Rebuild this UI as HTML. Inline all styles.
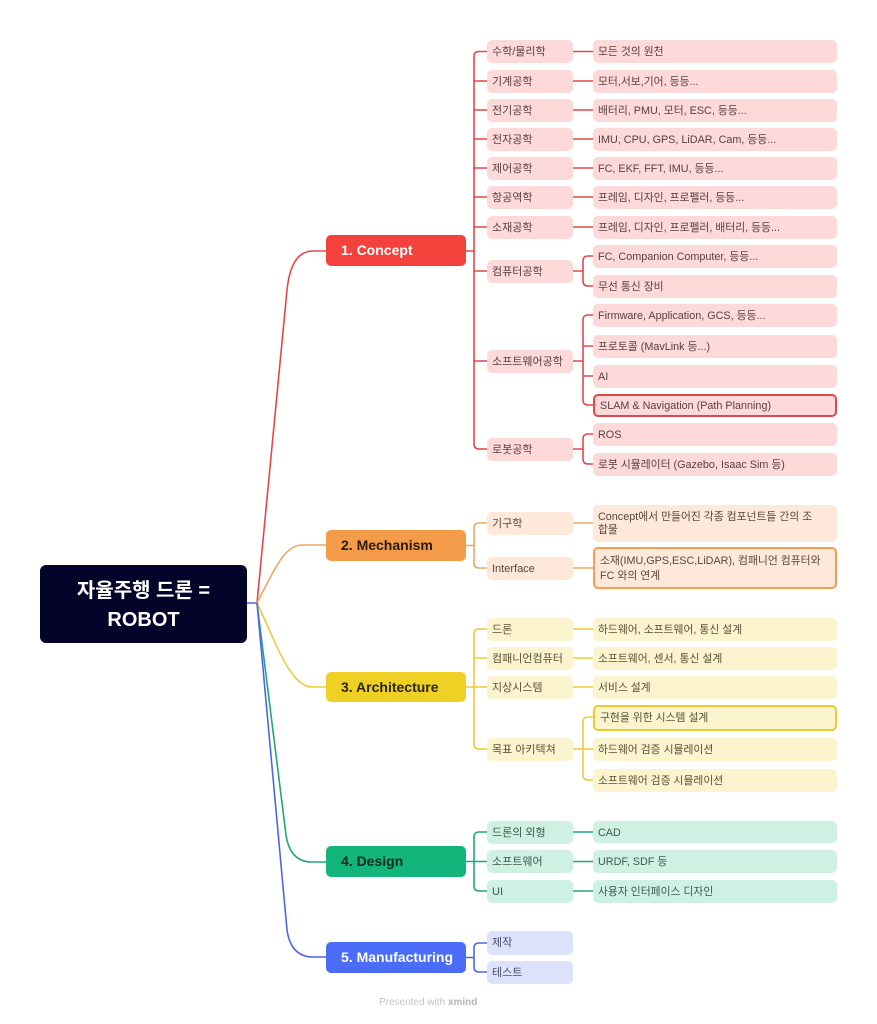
<!DOCTYPE html>
<html><head><meta charset="utf-8">
<style>
html,body{margin:0;padding:0;background:#fff;}
#c{position:relative;width:877px;height:1024px;overflow:hidden;background:#fff;font-family:"Liberation Sans","Noto Sans CJK KR",sans-serif;}
svg{position:absolute;left:0;top:0;}
.b{position:absolute;box-sizing:border-box;border-radius:5px;white-space:nowrap;}
.sub{left:487px;width:86px;height:23px;line-height:25px;font-size:11px;padding-left:5px;}
.leaf{left:593px;width:244px;height:23px;line-height:25px;font-size:10.8px;padding-left:5px;}
.main{left:326px;width:140px;height:31px;line-height:31px;font-size:14px;font-weight:bold;padding-left:15px;border-radius:5px;}
.r{background:#FDD9D9;color:#5a4040;}
.o{background:#FDE8DA;color:#5e4636;}
.y{background:#FCF3CF;color:#5a5236;}
.g{background:#CFF1E3;color:#3c5a4e;}
.bl{background:#DCE2FC;color:#474d6e;}
</style></head><body>
<div id="c">
<svg width="877" height="1024" viewBox="0 0 877 1024" fill="none" stroke-width="1.6" stroke-linecap="round">
  <path d="M247,603 H257" stroke="#5468D8"/>
  <path d="M257,603 L287,290 Q291,251 313,251 L326,251" stroke="#E2484A"/>
  <path d="M257,603 C272,575 283,545 302,545 L326,545" stroke="#F0A763"/>
  <path d="M257,603 C275,640 290,687 312,687 L326,687" stroke="#EBCB3A"/>
  <path d="M257,603 L286,835 Q290,862 312,862 L326,862" stroke="#1FA878"/>
  <path d="M257,603 L287,930 Q291,957 313,957 L326,957" stroke="#4F66E2"/>

  <g stroke="#E2484A">
    <path d="M466,251 H474"/>
    <path d="M474,251 V56.5 Q474,51.5 479,51.5 H487"/>
    <path d="M474,81 H487"/>
    <path d="M474,110 H487"/>
    <path d="M474,139 H487"/>
    <path d="M474,168 H487"/>
    <path d="M474,197 H487"/>
    <path d="M474,227 H487"/>
    <path d="M474,251 V444 Q474,449 479,449 H487"/>
    <path d="M474,271 H487"/>
    <path d="M474,361 H487"/>
    <path d="M573,51.5 H593"/>
    <path d="M573,81 H593"/>
    <path d="M573,110 H593"/>
    <path d="M573,139 H593"/>
    <path d="M573,168 H593"/>
    <path d="M573,197 H593"/>
    <path d="M573,227 H593"/>
    <path d="M573,271 H583 M583,271 V261 Q583,256 588,256 H593 M583,271 V281 Q583,286 588,286 H593"/>
    <path d="M573,361 H583 M583,361 V320 Q583,315 588,315 H593 M583,361 V400 Q583,405 588,405 H593 M583,346 H593 M583,376 H593"/>
    <path d="M573,449 H583 M583,449 V439 Q583,434 588,434 H593 M583,449 V459 Q583,464 588,464 H593"/>
  </g>
  <g stroke="#F0A763">
    <path d="M466,545.5 H474"/>
    <path d="M474,545.5 V528 Q474,523 479,523 H487"/>
    <path d="M474,545.5 V563 Q474,568 479,568 H487"/>
    <path d="M573,523 H593"/>
    <path d="M573,568 H593"/>
  </g>
  <g stroke="#EBCB3A">
    <path d="M466,687 H474"/>
    <path d="M474,687 V634 Q474,629 479,629 H487"/>
    <path d="M474,658 H487"/>
    <path d="M474,687 H487"/>
    <path d="M474,687 V744 Q474,749 479,749 H487"/>
    <path d="M573,629 H593"/>
    <path d="M573,658 H593"/>
    <path d="M573,687 H593"/>
    <path d="M573,749 H583 M583,749 V722 Q583,717 588,717 H593 M583,749 H593 M583,749 V775 Q583,780 588,780 H593"/>
  </g>
  <g stroke="#1FA878">
    <path d="M466,861.5 H474"/>
    <path d="M474,861.5 V837 Q474,832 479,832 H487"/>
    <path d="M474,861.5 H487"/>
    <path d="M474,861.5 V886 Q474,891 479,891 H487"/>
    <path d="M573,832 H593"/>
    <path d="M573,861.5 H593"/>
    <path d="M573,891 H593"/>
  </g>
  <g stroke="#4F66E2">
    <path d="M466,957.5 H474"/>
    <path d="M474,957.5 V948 Q474,943 479,943 H487"/>
    <path d="M474,957.5 V967 Q474,972 479,972 H487"/>
  </g>
</svg>

<div class="b" style="left:40px;top:565px;width:207px;height:78px;background:#04042A;border-radius:6px;color:#fff;font-size:20px;font-weight:bold;text-align:center;line-height:29px;padding-top:12px;">자율주행 드론 =<br>ROBOT</div>

<div class="b main" style="top:235px;background:#F4413B;color:#fff;">1. Concept</div>
<div class="b main" style="top:530px;background:#F39B48;color:#2a1a0c;">2. Mechanism</div>
<div class="b main" style="top:672px;height:30px;line-height:30px;background:#EFD024;color:#2a2408;">3. Architecture</div>
<div class="b main" style="top:846px;background:#13B57A;color:#0c2a1e;">4. Design</div>
<div class="b main" style="top:942px;background:#4A6CF7;color:#fff;">5. Manufacturing</div>

<div class="b sub r" style="top:40px;">수학/물리학</div>
<div class="b sub r" style="top:69.5px;">기계공학</div>
<div class="b sub r" style="top:98.5px;">전기공학</div>
<div class="b sub r" style="top:127.5px;">전자공학</div>
<div class="b sub r" style="top:156.5px;">제어공학</div>
<div class="b sub r" style="top:185.5px;">항공역학</div>
<div class="b sub r" style="top:215.5px;">소재공학</div>
<div class="b sub r" style="top:259.5px;">컴퓨터공학</div>
<div class="b sub r" style="top:349.5px;">소프트웨어공학</div>
<div class="b sub r" style="top:437.5px;">로봇공학</div>

<div class="b leaf r" style="top:40px;">모든 것의 원천</div>
<div class="b leaf r" style="top:69.5px;">모터,서보,기어, 등등...</div>
<div class="b leaf r" style="top:98.5px;">배터리, PMU, 모터, ESC, 등등...</div>
<div class="b leaf r" style="top:127.5px;">IMU, CPU, GPS, LiDAR, Cam, 등등...</div>
<div class="b leaf r" style="top:156.5px;">FC, EKF, FFT, IMU, 등등...</div>
<div class="b leaf r" style="top:185.5px;">프레임, 디자인, 프로펠러, 등등...</div>
<div class="b leaf r" style="top:215.5px;">프레임, 디자인, 프로펠러, 배터리, 등등...</div>
<div class="b leaf r" style="top:244.5px;">FC, Companion Computer, 등등...</div>
<div class="b leaf r" style="top:274.5px;">무선 통신 장비</div>
<div class="b leaf r" style="top:303.5px;">Firmware, Application, GCS, 등등...</div>
<div class="b leaf r" style="top:334.5px;">프로토콜 (MavLink 등...)</div>
<div class="b leaf r" style="top:364.5px;">AI</div>
<div class="b leaf r" style="top:393.5px;border:2px solid #E0484A;line-height:21px;padding-left:5px;">SLAM &amp; Navigation (Path Planning)</div>
<div class="b leaf r" style="top:422.5px;">ROS</div>
<div class="b leaf r" style="top:452.5px;">로봇 시뮬레이터 (Gazebo, Isaac Sim 등)</div>

<div class="b sub o" style="top:511.5px;">기구학</div>
<div class="b sub o" style="top:556.5px;">Interface</div>
<div class="b leaf o" style="top:505px;height:37px;line-height:13px;padding-top:6px;">Concept에서 만들어진 각종 컴포넌트들 간의 조<br>합물</div>
<div class="b leaf o" style="top:547px;height:42px;line-height:15px;padding-top:5px;border:2px solid #F0A050;">소재(IMU,GPS,ESC,LiDAR), 컴패니언 컴퓨터와<br>FC 와의 연계</div>

<div class="b sub y" style="top:617.5px;">드론</div>
<div class="b sub y" style="top:646.5px;">컴패니언컴퓨터</div>
<div class="b sub y" style="top:675.5px;">지상시스템</div>
<div class="b sub y" style="top:737.5px;">목표 아키텍쳐</div>
<div class="b leaf y" style="top:617.5px;">하드웨어, 소프트웨어, 통신 설계</div>
<div class="b leaf y" style="top:646.5px;">소프트웨어, 센서, 통신 설계</div>
<div class="b leaf y" style="top:675.5px;">서비스 설계</div>
<div class="b leaf y" style="top:704.5px;height:26px;line-height:23px;border:2px solid #EBCB2E;">구현을 위한 시스템 설계</div>
<div class="b leaf y" style="top:737.5px;">하드웨어 검증 시뮬레이션</div>
<div class="b leaf y" style="top:768.5px;">소프트웨어 검증 시뮬레이션</div>

<div class="b sub g" style="top:820.5px;">드론의 외형</div>
<div class="b sub g" style="top:850px;">소프트웨어</div>
<div class="b sub g" style="top:879.5px;">UI</div>
<div class="b leaf g" style="top:821px;height:22px;line-height:24px;">CAD</div>
<div class="b leaf g" style="top:850px;">URDF, SDF 등</div>
<div class="b leaf g" style="top:879.5px;">사용자 인터페이스 디자인</div>

<div class="b sub bl" style="top:931px;height:24px;">제작</div>
<div class="b sub bl" style="top:960.5px;">테스트</div>

<div style="position:absolute;left:379px;top:997px;font-size:10px;color:#c4c4c4;white-space:nowrap;">Presented with <b style="color:#b4b4b4;">xmind</b></div>
</div>
</body></html>
